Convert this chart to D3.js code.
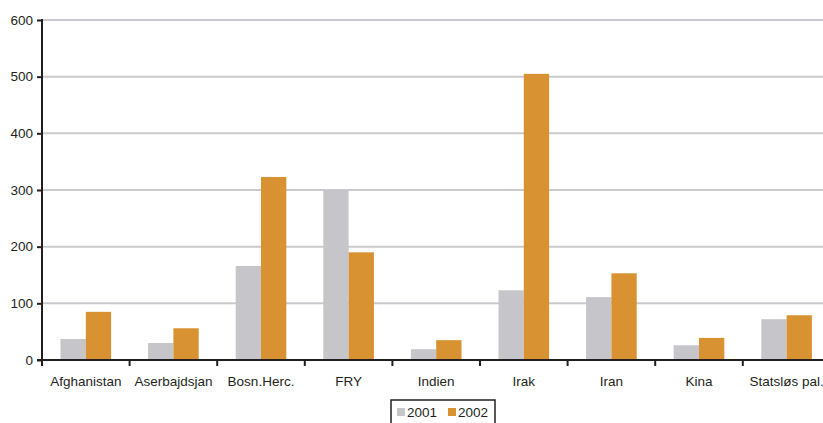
<!DOCTYPE html>
<html>
  <head>
    <meta charset="utf-8">
    <script src="https://d3js.org/d3.v7.min.js"></script>
    <style>
      body, html {
        margin: 0;
        width: 100%;
        height: 100%;
        overflow: hidden;
        background: #fff;
      }
      svg text {
        font-family: Arial, "Liberation Sans", sans-serif;
        fill: #231f20;
      }
    </style>
  </head>
  <body>
    <svg id="chart" width="823" height="423"></svg>
    <script>
      const categories = ["Afghanistan", "Aserbajdsjan", "Bosn.Herc.", "FRY", "Indien", "Irak", "Iran", "Kina", "Statsløs pal."];
      const seriesNames = ["2001", "2002"];
      const values2001 = [37, 30, 166, 300, 19, 123, 111, 26, 72];
      const values2002 = [85, 56, 323, 190, 35, 505, 153, 39, 79];
      const yTicks = [0, 100, 200, 300, 400, 500, 600];
      const colors = ["#c6c5ca", "#d89232"];

      (function() {
        const svg = d3.select("#chart");
        const plotLeft = 42, plotTop = 20, plotBottom = 360, band = 87.6;
        const fontSize = "13.5px";

        const x = d3.scaleBand()
          .domain(categories)
          .range([plotLeft, plotLeft + band * categories.length])
          .padding(0);

        const x1 = d3.scaleBand()
          .domain(seriesNames)
          .range([0, x.bandwidth()])
          .paddingInner(0)
          .paddingOuter(0.73);

        const y = d3.scaleLinear().domain([0, 600]).range([plotBottom, plotTop]);

        // gridlines
        svg.append("g")
          .selectAll("line")
          .data(yTicks.filter(d => d > 0))
          .join("line")
          .attr("x1", plotLeft).attr("x2", 823)
          .attr("y1", d => y(d)).attr("y2", d => y(d))
          .attr("stroke", "#cacace")
          .attr("stroke-width", 2);

        // bars
        const rows = categories.map((c, i) => ({ cat: c, vals: [values2001[i], values2002[i]] }));
        svg.append("g")
          .selectAll("g")
          .data(rows)
          .join("g")
          .attr("transform", d => `translate(${x(d.cat)},0)`)
          .selectAll("rect")
          .data(d => d.vals.map((v, j) => ({ key: seriesNames[j], v, j })))
          .join("rect")
          .attr("x", d => x1(d.key))
          .attr("width", x1.bandwidth())
          .attr("y", d => y(d.v))
          .attr("height", d => y(0) - y(d.v))
          .attr("fill", d => colors[d.j]);

        // y axis
        const yAxis = svg.append("g")
          .attr("transform", `translate(${plotLeft},0)`)
          .call(d3.axisLeft(y).tickValues(yTicks).tickSize(5).tickPadding(4));
        yAxis.select(".domain").remove();
        yAxis.selectAll(".tick line").attr("stroke", "#231f20").attr("stroke-width", 2);
        yAxis.selectAll("text").style("font-size", fontSize).attr("fill", "#231f20");
        svg.append("line")
          .attr("x1", plotLeft).attr("x2", plotLeft)
          .attr("y1", plotTop - 1).attr("y2", plotBottom)
          .attr("stroke", "#231f20").attr("stroke-width", 2);

        // x axis
        svg.append("line")
          .attr("x1", plotLeft - 5).attr("x2", 823)
          .attr("y1", plotBottom).attr("y2", plotBottom)
          .attr("stroke", "#231f20").attr("stroke-width", 2);
        svg.append("g")
          .selectAll("line")
          .data(categories.map(c => x(c)))
          .join("line")
          .attr("x1", d => d).attr("x2", d => d)
          .attr("y1", plotBottom).attr("y2", plotBottom + 6)
          .attr("stroke", "#231f20").attr("stroke-width", 2);
        svg.append("g")
          .selectAll("text")
          .data(categories)
          .join("text")
          .attr("x", d => x(d) + x.bandwidth() / 2)
          .attr("y", 386)
          .attr("text-anchor", "middle")
          .style("font-size", fontSize)
          .text(d => d);

        // legend
        const legend = svg.append("g");
        legend.append("rect")
          .attr("x", 391).attr("y", 400)
          .attr("width", 104).attr("height", 30)
          .attr("fill", "#fff").attr("stroke", "#231f20").attr("stroke-width", 1.5);
        const items = legend.selectAll("g.item")
          .data(seriesNames)
          .join("g")
          .attr("class", "item")
          .attr("transform", (d, i) => `translate(${397 + i * 51},0)`);
        items.append("rect")
          .attr("x", 0).attr("y", 408)
          .attr("width", 8).attr("height", 8)
          .attr("fill", (d, i) => colors[i]);
        items.append("text")
          .attr("x", 10).attr("y", 417)
          .style("font-size", fontSize)
          .text(d => d);
      })();
    </script>
  </body>
</html>
